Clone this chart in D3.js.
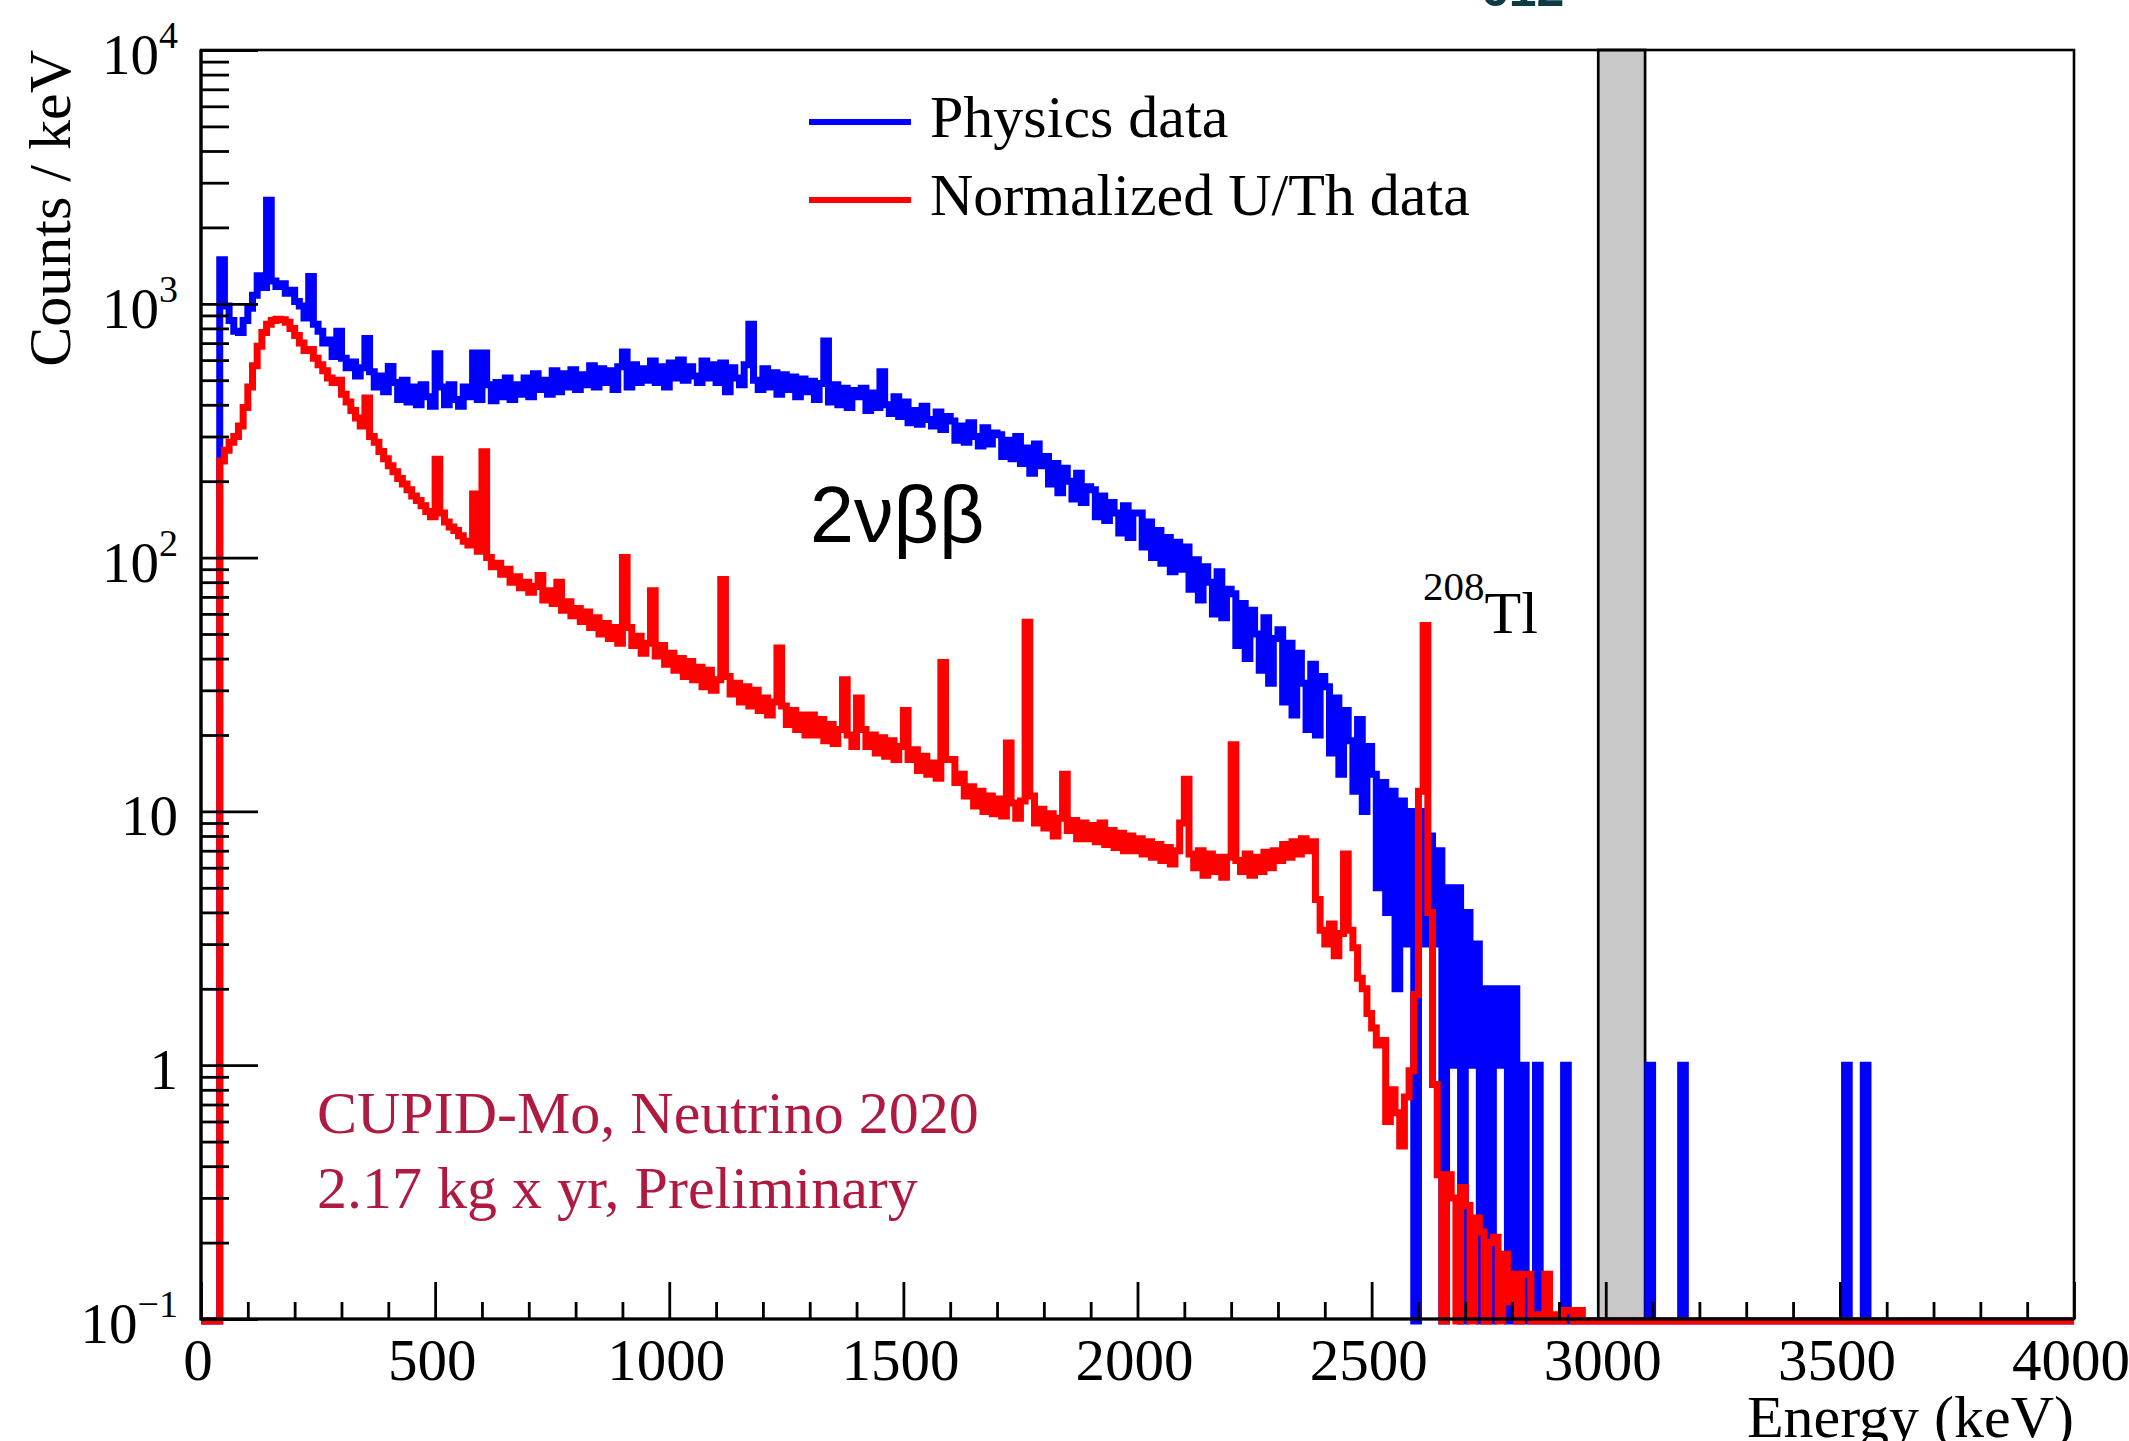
<!DOCTYPE html>
<html>
<head>
<meta charset="utf-8">
<script src="https://cdn.jsdelivr.net/npm/d3@7/dist/d3.min.js"></script>
<style>
  body { margin: 0; background: #fff; }
  #chart text { font-family: "Liberation Serif", "Times New Roman", serif; }
</style>
</head>
<body>
<div id="chart"></div>
<script>
// energy spectrum, 10 keV bins from 0 to 4000 keV (counts / keV)
const binWidth = 10;
const energyRange = [0, 4000];

const physicsData = [
  0,0,0,0,1490,980,860,780,770,860,               // 0
  960,1080,1290,1160,2560,1230,1170,1200,1100,1130,
  1020,980,880,1280,830,780,700,720,620,780,
  610,560,590,520,560,730,540,470,520,450,
  566,490,420,500,410,470,400,480,430,395,
  636,470,400,480,420,395,470,430,640,420,        // 500
  640,480,415,490,430,510,420,480,440,510,
  430,530,460,500,440,545,450,530,470,550,
  460,525,480,570,470,555,490,545,460,565,
  646,470,575,490,555,500,595,490,565,470,
  585,510,600,500,565,520,490,595,510,575,        // 1000
  490,585,450,560,510,480,575,830,500,460,
  555,470,535,440,525,460,515,430,505,450,
  495,420,485,713,410,480,400,465,390,455,
  430,465,380,445,390,540,400,370,430,360,
  410,340,380,335,395,350,330,375,320,360,        // 1500
  345,290,330,285,340,300,275,325,280,310,
  305,250,290,245,300,235,270,215,280,230,
  250,195,235,180,225,200,170,215,165,190,
  185,145,175,140,165,150,125,160,120,150,
  150,110,138,100,128,95,120,88,115,90,           // 2000
  110,75,98,68,92,80,60,88,58,75,
  72,45,66,40,62,50,36,58,32,48,
  52,27,46,24,42,32,21,38,20,34,
  31,17,28,14,25,19,12,23,10,18,
  14,5,13,4,12,2,11,3,10,0,                       // 2500
  10,3,8,3,7,0,5,1,5,0,
  4,1,3,0,2,0,2,1,2,0,
  2,0,1,0,0,1,0,0,0,0,
  0,1,0,0,0,0,0,0,0,0,
  0,0,0,0,0,0,0,0,0,1,                            // 3000
  0,0,0,0,0,0,1,0,0,0,
  0,0,0,0,0,0,0,0,0,0,
  0,0,0,0,0,0,0,0,0,0,
  0,0,0,0,0,0,0,0,0,0,
  0,1,0,0,0,1,0,0,0,0,                            // 3500
  0,0,0,0,0,0,0,0,0,0,
  0,0,0,0,0,0,0,0,0,0,
  0,0,0,0,0,0,0,0,0,0,
  0,0,0,0,0,0,0,0,0,0
];

const uthData = [
  0,0,0,0,240,265,285,300,330,390,                // 0
  470,570,680,770,830,860,870,865,845,800,
  750,700,655,660,610,575,545,510,490,500,
  440,410,380,355,330,425,300,285,262,245,
  230,218,205,195,185,175,168,160,152,145,
  244,150,138,132,128,122,116,112,178,106,        // 500
  261,100,92,95,86,90,80,84,76,80,
  73,77,85,68,74,66,80,62,67,59,
  63,56,61,53,58,50,55,48,53,46,
  100,53,45,49,42,46,74,41,45,38,
  42,36,40,34,39,33,37,31,36,30,                  // 1000
  33,82,34,29,32,27,31,26,30,25,
  28,24,27,44,26,22,25,21,24,20,
  24,20,23,19,22,18.5,21,33,20,18,
  28,21,18,20,17,19.5,16.5,19,16,18,
  25,16,17.5,14.5,16.5,14,15.5,13.5,38.6,16,      // 1500
  16,13,14,11.5,12.5,10.5,12,10,11.5,9.8,
  11.2,9.6,18.6,10.8,9.4,11,55.6,11.5,9,10.2,
  8.6,9.8,8,9.4,14,8.4,9.2,7.8,9,7.8,
  8.8,7.6,9,7.4,8.4,7.2,8.2,7,8,7,
  7.8,6.8,7.6,6.6,7.4,6.4,7.2,6.2,7,9,            // 2000
  13.4,6.8,6,7,5.6,6.8,5.8,6.6,5.5,6.6,
  18.3,6.4,5.8,6.8,5.6,6.6,5.8,6.9,6,7,
  6.4,7.4,6.6,7.6,6.8,7.8,7,7.6,4.5,3.4,
  3.0,3.6,2.7,3.3,6.8,3.4,2.9,2.2,2.0,1.6,
  1.4,1.2,1.25,0.6,0.8,0.65,0.48,0.75,0.95,1.9,   // 2500
  12,54,4,0.84,0.37,0,0.37,0.3,0,0.33,
  0.28,0,0.25,0.22,0,0.2,0.21,0,0.18,0.117,
  0.15,0,0.15,0.15,0,0.104,0,0.15,0,0.104,
  0,0.108,0.108,0,0.108,0,0,0,0,0,
  0,0,0,0,0,0,0,0,0,0,                            // 3000
  0,0,0,0,0,0,0,0,0,0,
  0,0,0,0,0,0,0,0,0,0,
  0,0,0,0,0,0,0,0,0,0,
  0,0,0,0,0,0,0,0,0,0,
  0,0,0,0,0,0,0,0,0,0,                            // 3500
  0,0,0,0,0,0,0,0,0,0,
  0,0,0,0,0,0,0,0,0,0,
  0,0,0,0,0,0,0,0,0,0,
  0,0,0,0,0,0,0,0,0,0
];

const xMajorTicks = [0, 500, 1000, 1500, 2000, 2500, 3000, 3500, 4000];
const xTickLabels = ["0", "500", "1000", "1500", "2000", "2500", "3000", "3500", "4000"];
const yMajorTicks = [0.1, 1, 10, 100, 1000, 10000];
const yTickBase = ["10", "1", "10", "10", "10", "10"];
const yTickExp  = ["\u22121", "", "", "2", "3", "4"];
const blindedRegion = [2984, 3084];
const legendNames = ["Physics data", "Normalized U/Th data"];
const seriesColors = ["#0000ff", "#ff0000"];

let width = 2129, height = 1441;
let plotLeft = 201, plotRight = 2074, plotTop = 50, plotBottom = 1319;
let histWidth = 7;

let svg = d3.select('#chart').append('svg')
    .attr('width', width)
    .attr('height', height);

svg.append('rect').attr('width', width).attr('height', height).attr('fill', '#fff');

let x = d3.scaleLinear().domain(energyRange).range([plotLeft, plotRight]);
let y = d3.scaleLog().domain([0.1, 10000]).range([plotBottom, plotTop]);

// empty bins are drawn at the bottom of the frame, like ROOT does
function yHist(v) {
    return v > 0.1 ? y(v) : plotBottom + 2;
}

let histLine = d3.line()
    .x(function(d){ return x(d[0]); })
    .y(function(d){ return yHist(d[1]); })
    .curve(d3.curveStepAfter);

function histPoints(values) {
    let pts = values.map(function(v, i){ return [i * binWidth, v]; });
    pts.push([values.length * binWidth, values[values.length - 1]]);
    return pts;
}

svg.append('clipPath').attr('id', 'plotclip')
  .append('rect')
    .attr('x', plotLeft).attr('y', plotTop)
    .attr('width', plotRight - plotLeft).attr('height', plotBottom - plotTop + 6);

// blinded ROI band
svg.append('rect')
    .attr('x', x(blindedRegion[0]))
    .attr('y', plotTop)
    .attr('width', x(blindedRegion[1]) - x(blindedRegion[0]))
    .attr('height', plotBottom - plotTop)
    .attr('fill', '#c8c8c8')
    .attr('stroke', '#000')
    .attr('stroke-width', 2.7);

let dataG = svg.append('g').attr('clip-path', 'url(#plotclip)');
[physicsData, uthData].forEach(function(series, k){
    dataG.append('path')
        .attr('d', histLine(histPoints(series)))
        .attr('fill', 'none')
        .attr('stroke', seriesColors[k])
        .attr('stroke-width', histWidth)
        .attr('stroke-linejoin', 'miter');
});

// frame
svg.append('rect')
    .attr('x', plotLeft).attr('y', plotTop)
    .attr('width', plotRight - plotLeft).attr('height', plotBottom - plotTop)
    .attr('fill', 'none').attr('stroke', '#000').attr('stroke-width', 2.6);
svg.append('path')
    .attr('d', 'M' + plotLeft + ',' + plotTop + 'V' + plotBottom + 'H' + plotRight)
    .attr('fill', 'none').attr('stroke', '#000').attr('stroke-width', 3.2);

// x ticks (inside, pointing up)
let xMinor = d3.range(0, 4001, 100).filter(function(v){ return v % 500 != 0; });
svg.append('g').attr('transform', 'translate(0,' + plotBottom + ')')
    .call(d3.axisTop(x).tickValues(xMajorTicks).tickSize(37).tickFormat(''))
    .call(function(g){ g.select('.domain').remove(); g.selectAll('line').attr('stroke-width', 2.8); });
svg.append('g').attr('transform', 'translate(0,' + plotBottom + ')')
    .call(d3.axisTop(x).tickValues(xMinor).tickSize(17).tickFormat(''))
    .call(function(g){ g.select('.domain').remove(); g.selectAll('line').attr('stroke-width', 2.8); });

// y ticks (inside, pointing right)
let yMinor = [];
[0.1, 1, 10, 100, 1000].forEach(function(dec){
    for (let m = 2; m <= 9; m++) yMinor.push(m * dec);
});
svg.append('g').attr('transform', 'translate(' + plotLeft + ',0)')
    .call(d3.axisRight(y).tickValues(yMajorTicks).tickSize(57).tickFormat(''))
    .call(function(g){ g.select('.domain').remove(); g.selectAll('line').attr('stroke-width', 2.8); });
svg.append('g').attr('transform', 'translate(' + plotLeft + ',0)')
    .call(d3.axisRight(y).tickValues(yMinor).tickSize(28).tickFormat(''))
    .call(function(g){ g.select('.domain').remove(); g.selectAll('line').attr('stroke-width', 2.8); });

// tick labels
svg.append('g').selectAll('text')
    .data(xMajorTicks)
    .enter().append('text')
    .attr('x', function(d){ return x(d) - 3; })
    .attr('y', 1380)
    .attr('text-anchor', 'middle')
    .attr('font-size', 59)
    .text(function(d, i){ return xTickLabels[i]; });

let yLab = svg.append('g').selectAll('text')
    .data(yMajorTicks)
    .enter().append('text')
    .attr('x', 178)
    .attr('y', function(d){ return y(d) + 24; })
    .attr('text-anchor', 'end')
    .attr('font-size', 57);
yLab.append('tspan').text(function(d, i){ return yTickBase[i]; });
yLab.append('tspan')
    .attr('dy', -26)
    .attr('font-size', 38)
    .text(function(d, i){ return yTickExp[i]; });

// axis titles
svg.append('text')
    .attr('transform', 'translate(70,' + plotTop + ') rotate(-90)')
    .attr('text-anchor', 'end')
    .attr('font-size', 60)
    .text('Counts / keV');
svg.append('text')
    .attr('x', plotRight).attr('y', 1437)
    .attr('text-anchor', 'end')
    .attr('font-size', 60)
    .text('Energy (keV)');

// legend
legendNames.forEach(function(name, k){
    let ly = [122, 200][k];
    svg.append('line')
        .attr('x1', 809).attr('x2', 911).attr('y1', ly).attr('y2', ly)
        .attr('stroke', seriesColors[k]).attr('stroke-width', 6);
    svg.append('text')
        .attr('x', 930).attr('y', ly + 15)
        .attr('font-size', 60)
        .text(name);
});

// annotations
svg.append('text')
    .attr('x', 810).attr('y', 542)
    .attr('font-size', 79)
    .style('font-family', '"Liberation Sans", Arial, sans-serif')
    .text('2\u03bd\u03b2\u03b2');

let tl = svg.append('text').attr('x', 1423).attr('y', 633).attr('font-size', 60);
tl.append('tspan').attr('dy', -33).attr('font-size', 41).text('208');
tl.append('tspan').attr('dy', 33).text('Tl');

let cupid = ['CUPID-Mo, Neutrino 2020', '2.17 kg x yr, Preliminary'];
cupid.forEach(function(line, k){
    svg.append('text')
        .attr('x', 317).attr('y', [1133, 1208][k])
        .attr('font-size', 60)
        .attr('fill', '#b01a40')
        .text(line);
});

// cut off slide text at the very top
svg.append('text')
    .attr('x', 1481).attr('y', 6)
    .attr('font-size', 50)
    .attr('font-weight', 'bold')
    .attr('fill', '#0d3a44')
    .style('font-family', '"Liberation Sans", Arial, sans-serif')
    .text('612');
</script>
</body>
</html>
